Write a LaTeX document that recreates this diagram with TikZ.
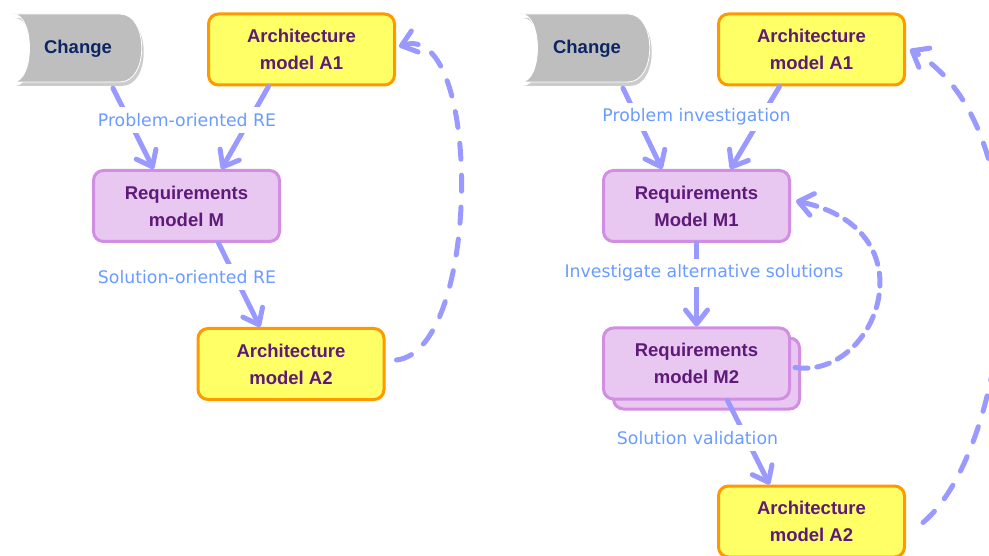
\documentclass[tikz,border=0pt]{standalone}
\usepackage{fontspec}
\setmainfont{Liberation Sans}
\newfontfamily\lblfont{DejaVu Sans}
\usetikzlibrary{arrows.meta,shadows,calc}
\definecolor{archfill}{HTML}{FFFF66}
\definecolor{archdraw}{HTML}{FF9900}
\definecolor{reqfill}{HTML}{E8C8F0}
\definecolor{reqdraw}{HTML}{D28EE2}
\definecolor{boxtext}{HTML}{5E1A78}
\definecolor{chgfill}{HTML}{BEBEBE}
\definecolor{chgtext}{HTML}{0C2664}
\definecolor{flow}{HTML}{9999FF}
\definecolor{lbl}{HTML}{6A9CFF}
\begin{document}
\begin{tikzpicture}[x=1pt,y=-1pt,
  box/.style={rounded corners=10pt, line width=3pt, minimum width=186pt, minimum height=71pt,
    align=center, font=\fontsize{18.5}{27}\selectfont\bfseries, text=boxtext},
  arch/.style={box, fill=archfill, draw=archdraw},
  req/.style={box, fill=reqfill, draw=reqdraw},
  chg/.style={font=\fontsize{18.5}{22}\selectfont\bfseries, text=chgtext, minimum width=128pt, minimum height=68pt},
  chgshape/.style={fill=chgfill, draw=white, line width=0.8pt,
    drop shadow={shadow xshift=2pt, shadow yshift=-4pt, opacity=0.4}},
  flowarrow/.style={draw=flow, line width=5pt, line cap=round,
    -{Straight Barb[length=14pt,width=22pt,round]}},
  dasharrow/.style={flowarrow, dash pattern=on 16pt off 16pt},
  shortdash/.style={flowarrow, dash pattern=on 13pt off 9pt},
  lab/.style={fill=white, text=lbl, font=\lblfont\fontsize{17.3}{20}\selectfont, inner xsep=2pt, inner ysep=6pt},
]
\useasboundingbox (0,0) rectangle (989,556);

% ---------- left diagram ----------
\path[chgshape] (13,14) -- (120,14) .. controls (149,14) and (149,82) .. (120,82)
  -- (13,82) .. controls (35,82) and (35,14) .. (13,14) -- cycle;
\node[chg] (chgL) at (78,49) {Change};
\node[arch] (A1L) at (301.5,49.5) {Architecture\\model A1};
\node[req]  (ML)  at (186.5,206) {Requirements\\model M};
\node[arch] (A2L) at (291,364) {Architecture\\model A2};

\draw[flowarrow] ([xshift=35pt,yshift=-5pt]chgL.south) -- ([xshift=-33pt]ML.north);
\draw[flowarrow] ([xshift=-33pt]A1L.south) -- ([xshift=35pt]ML.north);
\draw[flowarrow] ([xshift=32pt]ML.south) -- ([xshift=-31pt]A2L.north);
\node[lab] (l1) at (187,120) {Problem-oriented RE};
\node[lab] (l2) at (187,277) {Solution-oriented RE};
\draw[dasharrow] ([xshift=11pt,yshift=4pt]A2L.east) .. controls (482,350) and (482,20) .. ([xshift=3pt,yshift=3pt]A1L.east);

% ---------- right diagram ----------
\path[chgshape] (521,14) -- (628,14) .. controls (657,14) and (657,82) .. (628,82)
  -- (521,82) .. controls (543,82) and (543,14) .. (521,14) -- cycle;
\node[chg] (chgR) at (587,49) {Change};
\node[arch] (A1R) at (811.5,49.5) {Architecture\\model A1};
\node[req]  (M1R) at (696.5,206) {Requirements\\Model M1};
\node[req]  (M2b) at (706.5,373.5) {\phantom{Requirements}\\\phantom{model M2}};
\node[req]  (M2R) at (696.5,363.5) {Requirements\\model M2};
\node[arch] (A2R) at (811.5,521.5) {Architecture\\model A2};

\draw[flowarrow] ([xshift=36pt,yshift=-5pt]chgR.south) -- ([xshift=-34.5pt]M1R.north);
\draw[flowarrow] ([xshift=-32pt]A1R.south) -- ([xshift=34pt]M1R.north);
\draw[flowarrow] (M1R.south) -- (M2R.north);
\draw[flowarrow] ([xshift=31pt]M2R.south) -- ([xshift=-42pt]A2R.north);
\node[lab] (r1) at (696.5,117) {Problem investigation};
\node[lab] (r2) at (704,273) {Investigate alternative solutions};
\node[lab] (r3) at (697.5,438) {Solution validation};
\draw[shortdash] ([xshift=4pt,yshift=-4pt]M2R.east) .. controls (876,380) and (934,230) .. ([xshift=5pt,yshift=5pt]M1R.east);
\draw[dasharrow] ([xshift=17pt,yshift=-1pt]A2R.east) .. controls (1010,450) and (1050,130) .. ([xshift=4pt]A1R.east);
\end{tikzpicture}
\end{document}
